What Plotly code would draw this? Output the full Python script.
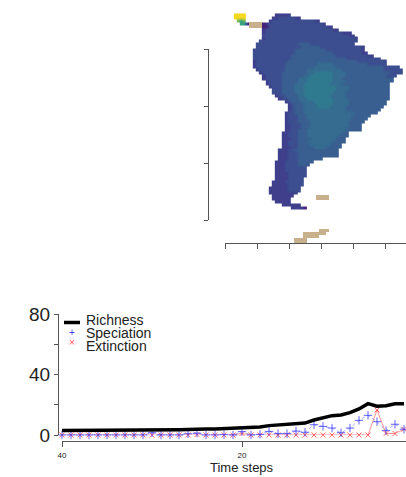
import numpy as np
import plotly.graph_objects as go

# ---------- time series ----------
STEPS = [40,39,38,37,36,35,34,33,32,31,30,29,28,27,26,25,24,23,22,21,20,19,18,17,16,15,14,13,12,11,10,9,8,7,6,5,4,3,2]
RICHNESS = [3,3,3,3,3,3,3,3,3,3,3.4,3.5,3.5,3.5,3.6,4,4,4,4.2,4.4,4.8,4.8,5.3,6.2,6.6,6.8,7.5,7.9,9.9,11.5,12.8,13.2,14.8,17.2,20.7,19,19.4,20.7,20.7]
SPECIATION = [0,0,0,0,0,0,0,0,0,0,1.5,0,0,0,0.8,1.2,0,0,0.2,0,2.2,0,0.4,2.4,0.9,0.9,2.6,1.8,6.8,5.7,4.6,1.5,4.6,9.7,13,8.8,2.9,7.1,3.8]
EXTINCTION = [0,0,0,0,0,0,0,0,0,0,0,0,0,0,0,0.3,0,0,0,0,1,0,0,0,0,0,0,0,0,0,0,0,0,0,0,16.5,1,1,3.8]
SERIES_NAMES = ["Richness", "Speciation", "Extinction"]
Y_TICKS = [0, 20, 40, 60, 80]
Y_TICK_TEXT = ["0", "", "40", "", "80"]
X_TICKS = [40, 20]

# ---------- map (1 degree cells; level string per latitude, starting at ROW_WEST) ----------
ROW_LAT = list(range(12, -56, -1))
ROW_WEST = [-74,-75,-76,-77,-76,-78,-78,-78,-78,-79,-80,-80,-81,-81,-81,-81,-81,-81,-81,-80,-79,-78,-78,-77,-77,-76,-75,-75,-74,-73,-71,-70,-70,-70,-71,-71,-71,-71,-71,-71,-71,-72,-72,-72,-72,-72,-72,-73,-73,-73,-73,-74,-74,-74,-74,-74,-74,-74,-75,-75,-76,-76,-76,-75,-75,-74,-72,-69]
ROW_LEVELS = [
"11111",
"112222211",
"1222222222222211",
"1222222222222222221",
"22222222222222222211",
"122222222222222222222211",
"1222222222222222222222222111",
"22222222222222222222222222211",
"122222222222222222222222222221",
"2222222222222222222222222222222",
"2222222222222333322222222222222",
"2222222222222233333322222222222221",
"22222222222223333333333222222222221",
"222222222222233333333333322222222211",
"22222222222233333333333333222222222211",
"2222222222223333333333333333322222222222",
"122222222223333333333333333333333222222222",
"122222222233333333334444433333333333222222",
"1222222222333333333444444433333333333333322222",
"1222222223333333444444444443333333333333222222",
"122222233333333445555554444333333333333332222",
"122222333333344555555544443333333333333222",
"12222233333444555555554443333333333333333",
"1222233333444555555554444333333333333333",
"122223333444555555554444333333333333333",
"12223333444555555555544443333333333333",
"2223333444555555555544443333333333333",
"2223333444555555555444433333333333333",
"122333344555555554444433333333333333",
"12233344455555555444443333333333333",
"12333444455555544444333333333333",
"1233344445555544444333333333333",
"123334444555544444333333333333",
"12333444444444444433333333333",
"12233344444444444444443333333",
"122233344444444444444333333",
"12223334444444444444433333",
"1222333344444444444433333",
"112223334444444444443333",
"112223334444444444443333",
"112233344444444444433333",
"112223334444444444433",
"112223334444444444333",
"11122333344444444333",
"11222333444444443333",
"1122233334444443333",
"1112233333444433333",
"1112233333333333333",
"1112223333333333333",
"1112223333333333333",
"11122233333333",
"111222233333",
"11122223332",
"1112222222",
"1112222222",
"1111222222",
"1111222222",
"111122222",
"1111222222",
"1111122222",
"1111112222",
"1111112222",
"111111111",
"1111111",
"111111",
"11111",
"111111",
"11110",
]
# Panama / Central America fragment (lon, lat, level)
CA_LON = [-87,-86,-85,-84,-87,-86,-85,-84,-86,-85,-84,-85,-84,-83,-78,-78,-77]
CA_LAT = [12,12,12,12,11,11,11,11,10,10,10,9,9,9,9,8,8]
CA_LEVEL = [9,9,9,9,9,9,9,9,7,6,7,6,6,0,0,0,0]
# Islands and Panama in tan (lon, lat)
TAN_LON = [-82,-81,-80,-79,-82,-81,-80,-79,-61,-60,-59,-58,-61,-60,-59,-58,-60,-59,-58,-60,-59,-65,-64,-63,-62,-61,-65,-64,-63,-62,-61,-68,-67,-66,-65,-68,-67,-66,-65,-67,-66]
TAN_LAT = [9,9,9,9,8,8,8,8,-51,-51,-51,-51,-52,-52,-52,-52,-63,-63,-63,-64,-64,-64,-64,-64,-64,-64,-65,-65,-65,-65,-65,-66,-66,-66,-66,-67,-67,-67,-67,-68,-68]

MAP_X_TICKS = [-90, -80, -70, -60, -50, -40]
MAP_Y_TICKS = [0, -20, -40, -60]

# ---------- styles ----------
W, H = 406, 477
AXIS = "#555555"
TEXT = "#222222"
FONT = "Liberation Sans, Arial, sans-serif"
COLORS = [[0, "#451f78"], [1/9, "#3f3f8c"], [2/9, "#3c4e8f"], [3/9, "#395e90"], [4/9, "#356c90"],
          [5/9, "#307a8f"], [6/9, "#35a080"], [7/9, "#70b860"], [1, "#f4d81c"]]

lon_cols = list(range(-88, -33))
all_lat = list(range(12, -69, -1))
grid = np.full((len(all_lat), len(lon_cols)), np.nan)
for la, w, row in zip(ROW_LAT, ROW_WEST, ROW_LEVELS):
    for j, c in enumerate(row):
        k = w + 88 + j
        if k < len(lon_cols):
            grid[all_lat.index(la), k] = int(c)
for lo, la, v in zip(CA_LON, CA_LAT, CA_LEVEL):
    grid[all_lat.index(la), lo + 88] = v
tan = np.full_like(grid, np.nan)
for lo, la in zip(TAN_LON, TAN_LAT):
    tan[all_lat.index(la), lo + 88] = 1

fig = go.Figure()
fig.add_trace(go.Heatmap(x=lon_cols, y=all_lat, z=grid, zmin=0, zmax=9, colorscale=COLORS, showscale=False,
                         zsmooth="best", xaxis="x", yaxis="y", hoverinfo="skip"))
fig.add_trace(go.Heatmap(x=lon_cols, y=all_lat, z=tan, zmin=0, zmax=1, showscale=False,
                         colorscale=[[0, "#c9b08c"], [1, "#c9b08c"]], xaxis="x", yaxis="y", hoverinfo="skip"))
# carrier for the latitude axis
fig.add_trace(go.Scatter(x=[-90], y=[0], mode="markers", marker=dict(opacity=0), xaxis="x", yaxis="y2",
                         showlegend=False, hoverinfo="skip"))

fig.add_trace(go.Scatter(x=STEPS, y=EXTINCTION, name=SERIES_NAMES[2], mode="lines+markers", xaxis="x3", yaxis="y3",
                         line=dict(color="rgba(255,60,60,0.55)", width=1), cliponaxis=False,
                         marker=dict(symbol="x-thin", size=5, line=dict(color="rgba(255,60,60,0.75)", width=1))))
fig.add_trace(go.Scatter(x=STEPS, y=SPECIATION, name=SERIES_NAMES[1], mode="lines+markers", xaxis="x3", yaxis="y3",
                         line=dict(color="rgba(60,60,255,0.45)", width=1, dash="dot"), cliponaxis=False,
                         marker=dict(symbol="cross-thin", size=6, line=dict(color="rgba(60,60,255,0.8)", width=1))))
fig.add_trace(go.Scatter(x=STEPS, y=RICHNESS, name=SERIES_NAMES[0], mode="lines", xaxis="x3", yaxis="y3",
                         line=dict(color="black", width=3.5), cliponaxis=False))

map_x_scale = 3.2
tick = dict(ticks="outside", ticklen=5, tickwidth=1, tickcolor=AXIS, showline=True, linecolor=AXIS, linewidth=1,
            showgrid=False, zeroline=False)
tick_y = {**tick, "ticklen": 4}

fig.update_layout(
    width=W, height=H, margin=dict(l=0, r=0, t=0, b=0, autoexpand=False), paper_bgcolor="white", plot_bgcolor="rgba(0,0,0,0)",
    showlegend=False, font=dict(family=FONT, color=TEXT),
    xaxis=dict(domain=[225 / W, 1], range=[-90, -90 + 181 / map_x_scale], tickvals=MAP_X_TICKS, showticklabels=False, **tick),
    yaxis=dict(domain=[(H - 243) / H, (H - 10) / H], range=[-67.4, 13.7], visible=False),
    yaxis2=dict(domain=[(H - 220) / H, (H - 49) / H], range=[-60, 0], anchor="free", position=208 / W,
                tickvals=MAP_Y_TICKS, showticklabels=False, **tick_y),
    xaxis3=dict(domain=[62 / W, 1], range=[40, 40 - 344 / 9], anchor="free", position=(H - 441) / H,
                tickvals=X_TICKS, tickfont=dict(size=8), ticklabelstandoff=1, **tick),
    yaxis3=dict(domain=[(H - 435) / H, (H - 314) / H], range=[0, 80], anchor="free", position=58 / W,
                tickvals=Y_TICKS, ticktext=Y_TICK_TEXT, tickfont=dict(size=19), **tick_y),
)

def note(text, px, py, size=14, color=TEXT, xanchor="left"):
    fig.add_annotation(text=text, x=px / W, y=1 - py / H, xref="paper", yref="paper", showarrow=False,
                       xanchor=xanchor, yanchor="middle", font=dict(size=size, color=color), borderpad=0)

note("Time steps", 242, 467, 13, xanchor="center")
note(SERIES_NAMES[0], 85, 320)
note(SERIES_NAMES[1], 85, 333)
note(SERIES_NAMES[2], 85, 346)
note("+", 72, 332, 10, "#4444ff", "center")
note("×", 72, 342, 10, "#ff5555", "center")
fig.add_shape(type="line", xref="paper", yref="paper", x0=64 / W, x1=80 / W, y0=1 - 322.5 / H, y1=1 - 322.5 / H,
              line=dict(color="black", width=3.5))

fig.write_html("out.html", config=dict(displayModeBar=False), post_script="document.body.style.margin='0';")
